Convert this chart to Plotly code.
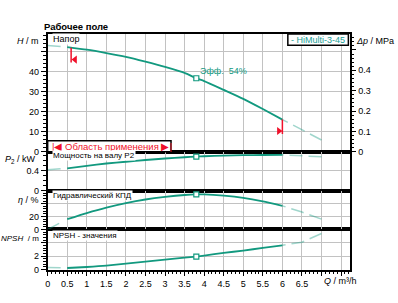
import numpy as np
import plotly.graph_objects as go

# ---------------- data ----------------
Q = [0, 0.5, 1, 1.5, 2, 2.5, 3, 3.5, 3.8, 4, 4.5, 5, 5.5, 6, 6.5, 7]
H = [53.2, 52.4, 51.1, 49.4, 47.5, 45.1, 42.5, 39.5, 36.8, 35.4, 31.0, 26.5, 21.4, 16.1, 11.0, 5.9]
P2 = [0.42, 0.45, 0.50, 0.545, 0.58, 0.615, 0.645, 0.67, 0.683, 0.69, 0.703, 0.711, 0.715, 0.717, 0.70, 0.68]
ETA = [0, 16, 25.5, 34, 41, 46.5, 50.5, 53.5, 54.5, 54.5, 52.5, 49, 43.5, 36.6, 27, 16]
NPSH = [0.34, 0.25, 0.4, 0.6, 0.9, 1.2, 1.5, 1.8, 1.96, 2.1, 2.5, 2.85, 3.25, 3.64, 4.1, 5.4]

Q_OP = 3.8          # operating point
Q_MIN = 0.6         # application range limits
Q_MAX = 6.0
Q_SOLID = 0.5       # start of solid curve
EFF_TEXT = "Эфф.\u00a0\u00a054%"
MODEL = "- HiMulti-3-45"

X_TICKS = [0, 0.5, 1, 1.5, 2, 2.5, 3, 3.5, 4, 4.5, 5, 5.5, 6, 6.5, 7, 7.5]
X_TICK_TEXT = ["0", "0.5", "1", "1.5", "2", "2.5", "3", "3.5", "4", "4.5", "5",
               "5.5", "6", "6.5", " ", " "]
H_TICKS = [0, 10, 20, 30, 40, 50]
H_TICK_TEXT = ["0", "10", "20", "30", "40", " "]
DP_TICKS = [0, 0.1, 0.2, 0.3, 0.4, 0.5]
DP_TICK_TEXT = ["0", "0.1", "0.2", "0.3", "0.4", " "]
P_TICKS = [0, 0.4]
P_TICK_TEXT = ["0", "0.4"]
ETA_TICKS = [0, 20, 40]
ETA_TICK_TEXT = ["0", "20", " "]
NPSH_TICKS = [0, 2, 4]
NPSH_TICK_TEXT = ["0", "2", " "]

# ---------------- style ----------------
W, HGT = 398, 303
TEAL = "#12997f"
FADE = "rgba(18,153,127,0.40)"
GRID = "#c2c2c2"
RED = "#f0102a"
FONT = "Liberation Sans, Arial, sans-serif"


def px(x):
    return x / W


def py(y):
    return 1 - y / HGT


XD = [px(45), px(349.3)]
D_H = [py(154.3), py(34.5)]
D_P = [py(194), py(154.3)]
D_E = [py(233.3), py(194)]
D_N = [py(274.2), py(233.3)]

fig = go.Figure()

qa = np.array(Q, dtype=float)


def add_curve(vals, xa, ya):
    v = np.array(vals, dtype=float)
    left = qa <= Q_SOLID
    mid = (qa >= Q_SOLID) & (qa <= Q_MAX)
    right = qa >= Q_MAX
    fig.add_trace(go.Scatter(x=qa[left], y=v[left], mode="lines", xaxis=xa, yaxis=ya,
                             line=dict(color=FADE, width=1.5, dash="13px,20px"),
                             hoverinfo="skip", showlegend=False))
    fig.add_trace(go.Scatter(x=qa[mid], y=v[mid], mode="lines", xaxis=xa, yaxis=ya,
                             line=dict(color=TEAL, width=1.8, shape="spline", smoothing=0.6),
                             showlegend=False))
    fig.add_trace(go.Scatter(x=qa[right][::-1], y=v[right][::-1], mode="lines", xaxis=xa, yaxis=ya,
                             line=dict(color=FADE, width=1.5, dash="13px,6px"),
                             hoverinfo="skip", showlegend=False))
    iop = Q.index(Q_OP)
    fig.add_trace(go.Scatter(x=[Q_OP], y=[vals[iop]], mode="markers", xaxis=xa, yaxis=ya,
                             marker=dict(symbol="square", size=5, color="white",
                                         line=dict(color=TEAL, width=1.2)),
                             showlegend=False))


add_curve(H, "x2", "y")
add_curve(P2, "x3", "y2")
add_curve(ETA, "x4", "y3")
add_curve(NPSH, "x", "y4")

# dummy trace so the Δp axis is drawn
fig.add_trace(go.Scatter(x=[0], y=[0], xaxis="x2", yaxis="y5", mode="markers",
                         marker=dict(opacity=0), hoverinfo="skip", showlegend=False))

# application range markers
h_min = float(np.interp(Q_MIN, Q, H))
h_max = float(np.interp(Q_MAX, Q, H))
fig.add_trace(go.Scatter(x=[Q_MIN, Q_MIN], y=[h_min, h_min - 7.4], mode="lines", xaxis="x2", yaxis="y",
                         line=dict(color=RED, width=1.5), showlegend=False))
fig.add_trace(go.Scatter(x=[Q_MAX, Q_MAX], y=[h_max, h_max - 7.2], mode="lines", xaxis="x2", yaxis="y",
                         line=dict(color=RED, width=1.5), showlegend=False))
fig.add_trace(go.Scatter(x=[Q_MIN + 0.1], y=[h_min - 6.0], mode="markers", xaxis="x2", yaxis="y",
                         marker=dict(symbol="triangle-left", size=7, color=RED), showlegend=False))
fig.add_trace(go.Scatter(x=[Q_MAX - 0.09], y=[h_max - 5.7], mode="markers", xaxis="x2", yaxis="y",
                         marker=dict(symbol="triangle-right", size=7, color=RED), showlegend=False))

tickfont = dict(family=FONT, size=9, color="black")
axis_common = dict(showline=True, linecolor="black", linewidth=1.5, mirror=True,
                   zeroline=False, gridcolor=GRID, gridwidth=1, tickfont=tickfont,
                   tickcolor="black", fixedrange=True)

x_common = dict(axis_common, tickmode="array", tickvals=X_TICKS, ticktext=X_TICK_TEXT,
                range=[0, 7.72], showgrid=True, domain=XD)


def yax(domain, rng, tv, tt, minor_dt, anchor):
    return dict(axis_common, domain=domain, range=rng, tickmode="array", tickvals=tv, ticktext=tt,
                ticks="outside", ticklen=5, showgrid=True, anchor=anchor,
                minor=dict(tickmode="linear", tick0=0, dtick=minor_dt, ticks="outside",
                           ticklen=3, tickcolor="black", showgrid=False))


fig.update_layout(
    width=W, height=HGT, margin=dict(l=0, r=0, t=0, b=0),
    paper_bgcolor="white", plot_bgcolor="white", showlegend=False,
    font=dict(family=FONT, size=9, color="black"),
    xaxis=dict(x_common, anchor="y4", ticks="outside", ticklen=5,
               minor=dict(tickmode="linear", tick0=0, dtick=0.1, ticks="outside",
                          ticklen=3, tickcolor="black", showgrid=False)),
    xaxis2=dict(x_common, anchor="y", matches="x", showticklabels=False, ticks=""),
    xaxis3=dict(x_common, anchor="y2", matches="x", showticklabels=False, ticks=""),
    xaxis4=dict(x_common, anchor="y3", matches="x", showticklabels=False, ticks=""),
    yaxis=yax(D_H, [0, 59], H_TICKS, H_TICK_TEXT, 2, "x2"),
    yaxis2=yax(D_P, [0, 0.78], P_TICKS, P_TICK_TEXT, 0.1, "x3"),
    yaxis3=yax(D_E, [0, 60], ETA_TICKS, ETA_TICK_TEXT, 4, "x4"),
    yaxis4=yax(D_N, [0, 6], NPSH_TICKS, NPSH_TICK_TEXT, 0.4, "x"),
    yaxis5=dict(axis_common, overlaying="y", side="right", anchor="x2", range=[0, 59 * 0.00981],
                tickmode="array", tickvals=DP_TICKS, ticktext=DP_TICK_TEXT, ticks="outside",
                ticklen=5, showgrid=False, mirror=False,
                minor=dict(tickmode="linear", tick0=0, dtick=0.02, ticks="outside",
                           ticklen=3, tickcolor="black", showgrid=False)),
)

# boxes
fig.add_shape(type="rect", xref="paper", yref="paper", x0=px(45), x1=px(169.3),
              y0=py(154.3), y1=py(143), fillcolor="white", line=dict(color="black", width=1.5))
fig.add_shape(type="rect", xref="paper", yref="paper", x0=px(287), x1=px(348),
              y0=py(46), y1=py(34.5), fillcolor="white", line=dict(color="black", width=1.5))


def ann(text, x, y, xanchor="left", size=9, color="black", bg=None, **kw):
    d = dict(text=text, x=px(x), y=py(y), xref="paper", yref="paper", showarrow=False,
             xanchor=xanchor, yanchor="middle", font=dict(family=FONT, size=size, color=color),
             borderpad=0)
    if bg:
        d["bgcolor"] = bg
    d.update(kw)
    fig.add_annotation(**d)


ann("<b>Рабочее поле</b>", 40, 27, size=9.5)
ann("|◀ Область применения ▶|", 110, 148.8, xanchor="center", size=9.5, color=RED)
ann(MODEL, 289, 40.5, size=9, color="#1b9e95")
ann("Напор", 49, 40, size=9, bg="white")
ann("Мощность на валу P2", 49, 158.5, size=8, bg="white")
ann("Гидравлический КПД", 49, 198.5, size=8, bg="white")
ann("NPSH - значения", 49, 239, size=8, bg="white")

ann("<i>H</i> / m", 37.5, 42, xanchor="right", size=9)
ann("<i>Δp</i> / MPa", 355, 42, size=9)
ann("<i>P</i><sub>2</sub> / kW", 34, 162, xanchor="right", size=9)
ann("<i>η</i> / %", 37.5, 203, xanchor="right", size=9)
ann("<i>NPSH</i>  / m", 37.5, 242, xanchor="right", size=8)
ann("<i>Q</i> / m³/h", 322.5, 285.5, size=9)

# efficiency label at operating point
fig.add_annotation(text=EFF_TEXT, x=Q_OP, y=H[Q.index(Q_OP)], xref="x2", yref="y",
                   showarrow=False, xanchor="left", yanchor="bottom", xshift=2, yshift=0,
                   font=dict(family=FONT, size=9, color=TEAL))

fig.write_html("out.html")
